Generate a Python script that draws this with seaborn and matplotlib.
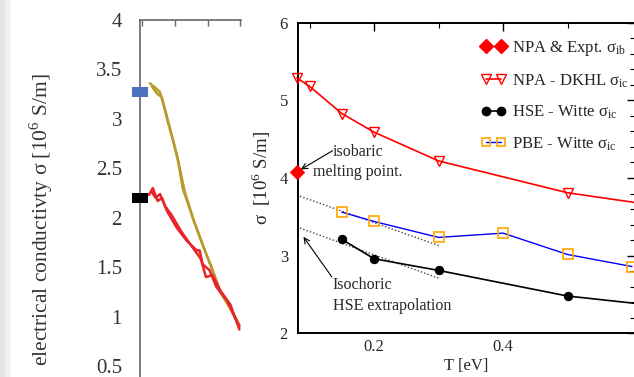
import matplotlib
matplotlib.use("Agg")
import matplotlib.pyplot as plt
import seaborn as sns
from matplotlib.lines import Line2D
from matplotlib.patches import Rectangle
from matplotlib.ticker import FixedLocator, MultipleLocator

# ---------------- Left panel (cropped figure, arbitrary x units) ----------------
left_yticks = [0.5, 1, 1.5, 2, 2.5, 3, 3.5, 4]
left_yticklabels = ["0.5", "1", "1.5", "2", "2.5", "3", "3.5", "4"]
left_xticks = [0, 1, 2, 3]

gold_x_a = [0.24, 0.39, 0.55, 0.70, 0.91, 1.09, 1.24, 1.55, 1.85, 2.15, 2.36, 2.67, 2.97]
gold_y_a = [3.36, 3.32, 3.27, 3.10, 2.83, 2.60, 2.30, 2.00, 1.73, 1.47, 1.27, 1.10, 0.90]
gold_x_b = [0.30, 0.45, 0.60, 0.75, 0.95, 1.12, 1.30, 1.58, 1.88, 2.18, 2.40, 2.70, 2.97]
gold_y_b = [3.33, 3.26, 3.22, 3.02, 2.78, 2.55, 2.27, 1.97, 1.70, 1.45, 1.24, 1.08, 0.92]

red_x_a = [0.21, 0.33, 0.48, 0.61, 0.76, 1.06, 1.36, 1.67, 1.76, 1.85, 2.06, 2.27, 2.58, 2.97]
red_y_a = [2.23, 2.30, 2.17, 2.20, 2.07, 1.90, 1.77, 1.67, 1.67, 1.53, 1.47, 1.30, 1.17, 0.90]
red_x_b = [0.30, 0.42, 0.55, 0.70, 0.90, 1.20, 1.50, 1.72, 1.80, 1.95, 2.15, 2.40, 2.70, 2.97]
red_y_b = [2.26, 2.20, 2.24, 2.12, 2.03, 1.86, 1.72, 1.62, 1.58, 1.40, 1.42, 1.26, 1.12, 0.87]

blue_marker_y = 3.27
black_marker_y = 2.20

# ---------------- Right panel data ----------------
npa_expt_T = [0.08]
npa_expt_s = [4.08]

dkhl_T = [0.08, 0.10, 0.15, 0.20, 0.30, 0.50, 0.70]
dkhl_s = [5.29, 5.18, 4.83, 4.59, 4.22, 3.81, 3.57]

hse_T = [0.15, 0.20, 0.30, 0.50, 0.70]
hse_s = [3.21, 2.96, 2.81, 2.48, 2.30]

pbe_T = [0.15, 0.20, 0.30, 0.40, 0.50, 0.60]
pbe_s = [3.56, 3.44, 3.235, 3.29, 3.015, 2.86]

extrap_up_T = [0.08, 0.30]
extrap_up_s = [3.78, 3.13]
extrap_lo_T = [0.08, 0.30]
extrap_lo_s = [3.37, 2.71]

right_xticks = [0.2, 0.4]
right_xticklabels = ["0.2", "0.4"]
right_yticks = [2, 3, 4, 5, 6]
right_yticklabels = ["2", "3", "4", "5", "6"]

legend_labels = [
    r"NPA & Expt. σ$_{\mathregular{ib}}$",
    r"NPA - DKHL σ$_{\mathregular{ic}}$",
    r"HSE - Witte σ$_{\mathregular{ic}}$",
    r"PBE - Witte σ$_{\mathregular{ic}}$",
]

# ---------------- Style ----------------
sns.set_style("white")
plt.rcParams["font.family"] = ["Liberation Serif", "DejaVu Serif"]
plt.rcParams["mathtext.fontset"] = "stix"

W, H = 634, 377
fig = plt.figure(figsize=(W / 100, H / 100), dpi=100)

# light gray strip at far left
fig.patches.append(Rectangle((0, 0), 5 / W, 1, transform=fig.transFigure,
                             color="#e4e4e4", zorder=0))
fig.patches.append(Rectangle((5 / W, 0), 4 / W, 1, transform=fig.transFigure,
                             color="#f1f1f1", zorder=0))

# ---------------- Left axes ----------------
axL = fig.add_axes([140 / W, 0, 101 / W, (H - 20) / H])
axL.set_facecolor("none")
gold = "#b89b2e"
redL = "#e8262a"
for xs, ys in [(gold_x_a, gold_y_a), (gold_x_b, gold_y_b)]:
    sns.lineplot(x=xs, y=ys, sort=False, color=gold, lw=1.8, ax=axL, legend=False)
for xs, ys in [(red_x_a, red_y_a), (red_x_b, red_y_b)]:
    sns.lineplot(x=xs, y=ys, sort=False, color=redL, lw=1.8, ax=axL, legend=False)

rect_marker = [(-1.5, -1), (1.5, -1), (1.5, 1), (-1.5, 1), (-1.5, -1)]
sns.scatterplot(x=[-0.06], y=[blue_marker_y], marker=rect_marker, s=120,
                color="#4a72bf", edgecolor="none", ax=axL, clip_on=False, zorder=5, legend=False)
sns.scatterplot(x=[-0.06], y=[black_marker_y], marker=rect_marker, s=120,
                color="black", edgecolor="none", ax=axL, clip_on=False, zorder=5, legend=False)

axL.set_xlim(-0.06, 3.02)
axL.set_ylim(0.39, 4.0)
for side in ["right", "bottom"]:
    axL.spines[side].set_visible(False)
for side in ["left", "top"]:
    axL.spines[side].set_color("#666666")
    axL.spines[side].set_linewidth(1.2)
axL.xaxis.set_ticks_position("top")
axL.set_xticks(left_xticks)
axL.set_xticklabels([])
axL.set_yticks(left_yticks)
axL.set_yticklabels(left_yticklabels)
axL.yaxis.set_minor_locator(MultipleLocator(0.1))
axL.tick_params(axis="y", which="both", direction="in", color="#666666",
                labelcolor="#333333", labelsize=15, pad=13)
axL.tick_params(axis="y", which="major", length=4.5, width=1)
axL.tick_params(axis="y", which="minor", length=3.5, width=0.8)
axL.tick_params(axis="x", which="major", direction="in", length=4, width=1,
                color="#666666", top=True, bottom=False)
axL.set_xlabel("")
axL.set_ylabel("electrical conductivty σ [10$^{\\mathregular{6}}$ S/m]",
               fontsize=15.5, color="#333333")
axL.yaxis.set_label_coords(-0.84, 0.44)

# ---------------- Right axes ----------------
x0 = 297.7
axR = fig.add_axes([x0 / W, 1 - 333.3 / H, (635 - x0) / W, (333.3 - 22.7) / H])
axR.set_facecolor("none")

sns.lineplot(x=extrap_up_T, y=extrap_up_s, color="#444444", lw=1.0, ax=axR,
             legend=False, linestyle=(0, (1, 1.5)))
sns.lineplot(x=extrap_lo_T, y=extrap_lo_s, color="#444444", lw=1.0, ax=axR,
             legend=False, linestyle=(0, (1, 1.5)))

sns.lineplot(x=dkhl_T, y=dkhl_s, color="red", lw=1.2, marker="v", markersize=6.5,
             markerfacecolor="none", markeredgecolor="red", markeredgewidth=1.0,
             ax=axR, legend=False, clip_on=False, zorder=4)
sns.lineplot(x=hse_T, y=hse_s, color="black", lw=1.2, marker="o", markersize=6,
             markerfacecolor="black", markeredgecolor="black",
             ax=axR, legend=False, clip_on=False, zorder=4)
sns.lineplot(x=pbe_T, y=pbe_s, color="blue", lw=1.0, marker="s", markersize=6.5,
             markerfacecolor="none", markeredgecolor="orange", markeredgewidth=1.2,
             ax=axR, legend=False, clip_on=False, zorder=4)
sns.lineplot(x=npa_expt_T, y=npa_expt_s, color="red", marker="D", markersize=7.5,
             markerfacecolor="red", markeredgecolor="red", linestyle="none",
             ax=axR, legend=False, clip_on=False, zorder=6)

axR.set_xlim(0.0815, 0.6047)
axR.set_ylim(2, 6)
axR.set_xticks(right_xticks)
axR.set_xticklabels(right_xticklabels)
axR.set_yticks(right_yticks)
axR.set_yticklabels(right_yticklabels)
axR.xaxis.set_minor_locator(FixedLocator([0.1, 0.3, 0.5]))
axR.yaxis.set_minor_locator(MultipleLocator(0.2))
for side in ["left", "bottom", "top", "right"]:
    axR.spines[side].set_color("black")
    axR.spines[side].set_linewidth(1.4)
axR.tick_params(which="both", direction="in", top=True, right=True,
                color="black", labelsize=12)
axR.tick_params(which="major", length=5.5, width=1)
axR.tick_params(which="minor", length=3.5, width=0.8)
axR.tick_params(axis="y", pad=7)
axR.tick_params(axis="x", pad=4)

axR.set_xlabel("T [eV]", fontsize=12)
axR.xaxis.set_label_coords(0.5, -0.08)
axR.set_ylabel("σ  [10$^{\\mathregular{6}}$ S/m]", fontsize=13.5)
axR.yaxis.set_label_coords(-0.072, 0.5)

# annotations
axR.annotate("", xy=(0.0864, 4.11), xytext=(0.1355, 4.351),
             arrowprops=dict(arrowstyle="->", color="black", lw=0.8,
                             shrinkA=0, shrinkB=0, mutation_scale=10))
axR.text(0.1365, 4.334, "isobaric", ha="left", va="center", fontsize=11.5)
axR.text(0.105, 4.076, "melting point.", ha="left", va="center", fontsize=11.5)

axR.annotate("", xy=(0.0904, 3.242), xytext=(0.1344, 2.727),
             arrowprops=dict(arrowstyle="->", color="black", lw=0.8,
                             shrinkA=0, shrinkB=0, mutation_scale=10))
axR.text(0.136, 2.62, "Isochoric", ha="left", va="center", fontsize=11.5)
axR.text(0.136, 2.35, "HSE extrapolation", ha="left", va="center", fontsize=11.5)

handles = [
    Line2D([], [], color="#ffc8c8", lw=0.8, marker="D", markersize=7,
           markerfacecolor="red", markeredgecolor="red"),
    Line2D([], [], color="red", lw=1.2, marker="v", markersize=6.5,
           markerfacecolor="none", markeredgecolor="red"),
    Line2D([], [], color="black", lw=1.2, marker="o", markersize=6,
           markerfacecolor="black", markeredgecolor="black"),
    Line2D([], [], color="blue", lw=1.0, marker="s", markersize=6,
           markerfacecolor="none", markeredgecolor="orange", markeredgewidth=1.2),
]
axR.legend(handles, legend_labels, loc="upper left",
           bbox_to_anchor=(481 / W, 1 - 39 / H), bbox_transform=fig.transFigure,
           frameon=False, numpoints=2, handlelength=1.5, handletextpad=0.35,
           labelspacing=0.85, borderpad=0, borderaxespad=0, fontsize=12)

fig.savefig("out.png", dpi=100)
